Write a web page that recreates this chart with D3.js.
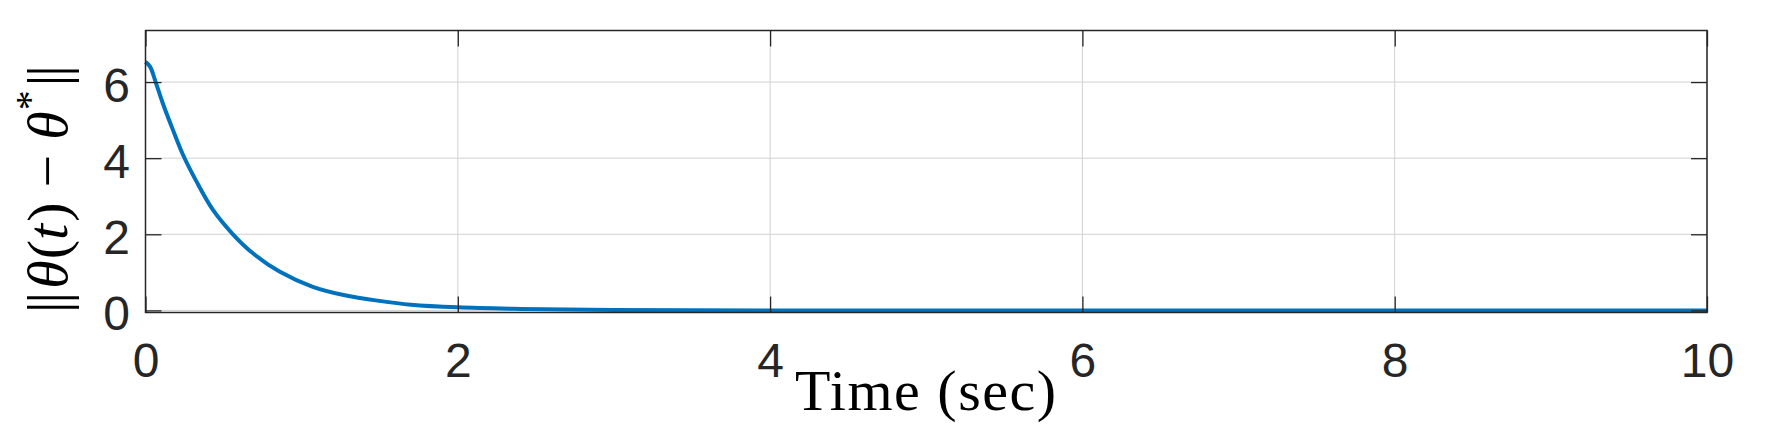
<!DOCTYPE html>
<html>
<head>
<meta charset="utf-8">
<script src="https://cdn.jsdelivr.net/npm/d3@7/dist/d3.min.js"></script>
<style>
body { margin: 0; background: #fff; }
svg { display: block; }
</style>
</head>
<body>
<svg class="chart" width="1765" height="425"></svg>
<script>
// values
const timeVals = [0, 0.03, 0.065, 0.11, 0.175, 0.24, 0.326, 0.432, 0.56, 0.688, 0.858, 1.071, 1.284, 1.497, 1.7, 2.0, 2.4, 3.0, 4, 6, 8, 10];
const errNorm = [6.53, 6.40, 6.0, 5.45, 4.75, 4.09, 3.39, 2.64, 2.0, 1.50, 1.02, 0.62, 0.39, 0.25, 0.15, 0.08, 0.04, 0.01, 0, 0, 0, 0];
const xTicks = [0, 2, 4, 6, 8, 10];
const yTicks = [0, 2, 4, 6];

function drawChart() {
    const width = 1765, height = 425;
    const margin = { top: 30.5, right: 58, bottom: 112.5, left: 145.5 };
    const innerW = width - margin.left - margin.right;
    const innerH = height - margin.top - margin.bottom;
    const axisColor = "#262626";
    const serif = "'Liberation Serif', 'DejaVu Serif', serif";

    var svg = d3.select(".chart");
    var g = svg.append("g").attr("transform", `translate(${margin.left},${margin.top})`);

    var x = d3.scaleLinear().domain([0, 10]).range([0, innerW]);
    var y = d3.scaleLinear().domain([-0.055, 7.355]).range([innerH, 0]);

    // grid
    g.append("g").selectAll("line").data(xTicks).join("line")
        .attr("x1", d => x(d)).attr("x2", d => x(d))
        .attr("y1", 0).attr("y2", innerH)
        .attr("stroke", "#d2d2d2").attr("stroke-width", 1);
    g.append("g").selectAll("line").data(yTicks).join("line")
        .attr("x1", 0).attr("x2", innerW)
        .attr("y1", d => y(d)).attr("y2", d => y(d))
        .attr("stroke", "#d2d2d2").attr("stroke-width", 1);

    // the curve
    var line = d3.line()
        .x((d, i) => x(timeVals[i]))
        .y(d => y(d))
        .curve(d3.curveCatmullRom.alpha(0.5));
    g.append("path")
        .datum(errNorm)
        .attr("d", line)
        .attr("fill", "none")
        .attr("stroke", "#0072BD")
        .attr("stroke-width", 4)
        .attr("stroke-linejoin", "round");

    // axes, ticks inside on all four sides
    g.append("g").attr("transform", `translate(0,${innerH})`)
        .call(d3.axisBottom(x).tickValues(xTicks).tickSizeInner(-16).tickSizeOuter(0).tickPadding(30));
    g.append("g")
        .call(d3.axisTop(x).tickValues(xTicks).tickSizeInner(-16).tickSizeOuter(0).tickFormat(""));
    var leftAx = g.append("g")
        .call(d3.axisLeft(y).tickValues(yTicks).tickSizeInner(-16).tickSizeOuter(0).tickPadding(15.5));
    g.append("g").attr("transform", `translate(${innerW},0)`)
        .call(d3.axisRight(y).tickValues(yTicks).tickSizeInner(-16).tickSizeOuter(0).tickFormat(""));

    g.selectAll(".domain").remove();
    g.selectAll(".tick line").attr("stroke", axisColor).attr("stroke-width", 1.3);
    g.selectAll(".tick text")
        .attr("fill", axisColor)
        .style("font-family", "'Liberation Sans', Arial, sans-serif")
        .style("font-size", "48px");
    leftAx.selectAll(".tick text").attr("dy", "0.4em");

    g.append("rect")
        .attr("width", innerW).attr("height", innerH)
        .attr("fill", "none")
        .attr("stroke", axisColor).attr("stroke-width", 1.5);

    // axis labels
    svg.append("text")
        .attr("x", margin.left + innerW / 2)
        .attr("y", 410)
        .attr("text-anchor", "middle")
        .style("font-family", serif)
        .style("font-size", "58px")
        .style("letter-spacing", "1.5px")
        .attr("fill", "#000")
        .text("Time (sec)");

    // ||θ(t) − θ*||
    var ylab = svg.append("text")
        .attr("transform", "translate(67,189) rotate(-90)")
        .attr("text-anchor", "middle")
        .style("font-family", serif)
        .style("font-size", "58px")
        .attr("fill", "#000");
    ylab.append("tspan").text("|");
    ylab.append("tspan").attr("dx", -2).text("|");
    ylab.append("tspan").attr("dx", 3).style("font-style", "italic").text("\u03b8");
    ylab.append("tspan").attr("dx", 1).text("(");
    ylab.append("tspan").style("font-style", "italic").text("t");
    ylab.append("tspan").attr("dx", 2).text(")");
    ylab.append("tspan").attr("dx", 15).text("\u2212");
    ylab.append("tspan").attr("dx", 15).style("font-style", "italic").text("\u03b8");
    ylab.append("tspan").attr("dy", -24).attr("dx", 1).style("font-size", "40px").text("*");
    ylab.append("tspan").attr("dy", 24).attr("dx", 4).text("|");
    ylab.append("tspan").attr("dx", -2).text("|");
}
drawChart();
</script>
</body>
</html>
